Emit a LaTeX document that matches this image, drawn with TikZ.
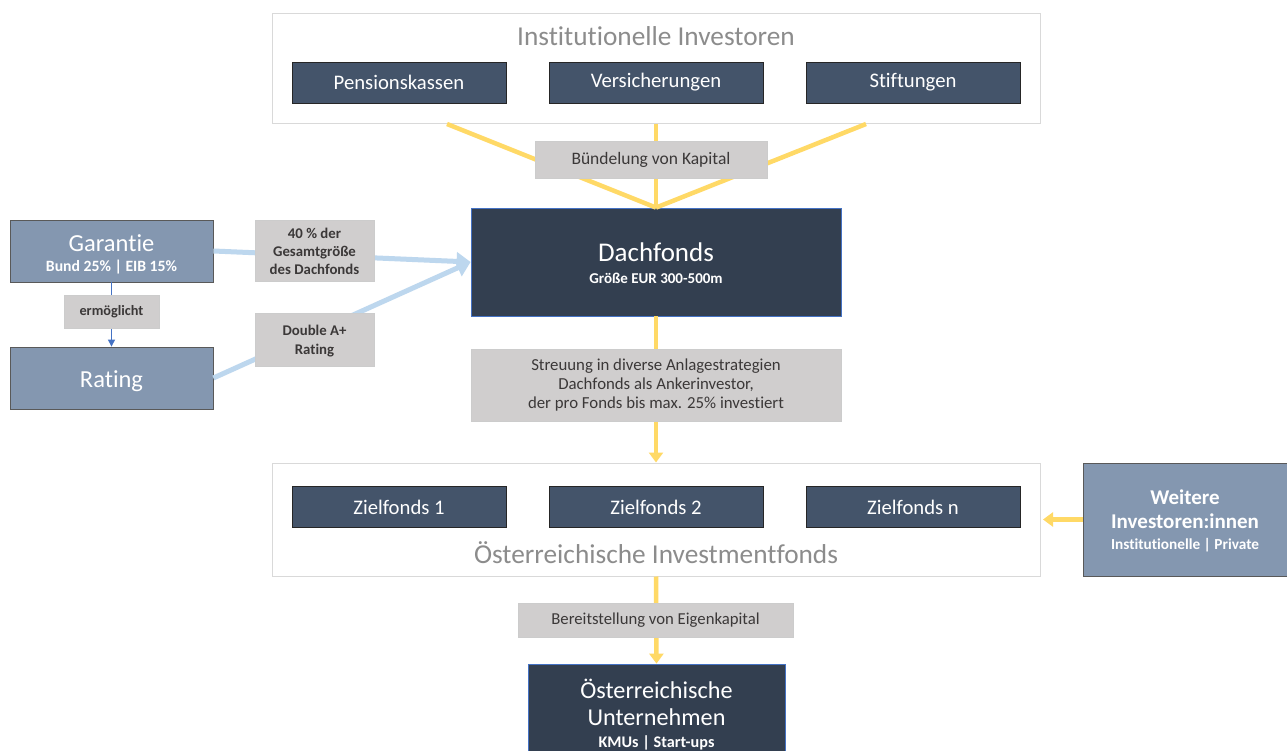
\documentclass[tikz,border=0pt]{standalone}
\usepackage{fontspec}
\setmainfont{Carlito}[Ligatures=NoCommon]
\usetikzlibrary{arrows.meta,calc}
\definecolor{navy}{HTML}{333F50}
\definecolor{slate}{HTML}{44546A}
\definecolor{steel}{HTML}{8497B0}
\definecolor{lgray}{HTML}{D0CECE}
\definecolor{gold}{HTML}{FFD966}
\definecolor{lblue}{HTML}{BDD7EE}
\definecolor{accent}{HTML}{4472C4}
\definecolor{titlegray}{HTML}{8C8C8C}
\definecolor{labeltext}{HTML}{3B3838}
\newcommand{\fsz}[1]{\fontsize{#1}{#1}\selectfont}
\newcommand{\lowr}[2]{\raisebox{-#1}[\height][\depth]{#2}}
\tikzset{
  outerbox/.style={draw=black!15, line width=1pt, fill=white, inner sep=0pt},
  fundbox/.style={draw=black!85, line width=0.8pt, fill=slate, text=white, inner sep=0pt,
    minimum width=214pt, minimum height=41pt, font=\fontsize{20.7}{24}\selectfont},
  darkbox/.style={draw=accent, line width=0.8pt, fill=navy, text=white, inner sep=0pt, align=center},
  steelbox/.style={draw=black!65, line width=0.8pt, fill=steel, text=white, inner sep=0pt, align=center},
  labelbox/.style={draw=black!20, line width=0.8pt, fill=lgray, text=labeltext, inner sep=0pt, align=center},
  titletext/.style={text=titlegray, font=\fontsize{27.3}{30}\selectfont, inner sep=0pt},
  goldline/.style={draw=gold, line width=4.5pt},
  goldarrow/.style={goldline, -{Triangle[width=14pt,length=10pt]}},
  bluearrow/.style={draw=lblue, line width=5pt, -{Triangle[width=18pt,length=14pt]}},
}
\begin{document}
\begin{tikzpicture}[x=1pt,y=-1pt]
\useasboundingbox[fill=white] (0,0) rectangle (1287,751);
\clip (0,0) rectangle (1287,751);

% outer containers
\node[outerbox, minimum width=768pt, minimum height=110pt] (inst) at (656,69) {};
\node[titletext] (insttitle) at (656,36) {Institutionelle Investoren};
\node[fundbox] (pens) at (399,82.5) {Pensionskassen};
\node[fundbox] (vers) at (656,82.5) {Versicherungen};
\node[fundbox] (stif) at (913,82.5) {Stiftungen};

\node[outerbox, minimum width=768pt, minimum height=113pt] (invest) at (656,519.5) {};
\node[fundbox] (z1) at (399,507) {Zielfonds 1};
\node[fundbox] (z2) at (656,507) {Zielfonds 2};
\node[fundbox] (zn) at (913,507) {Zielfonds n};
\node[titletext] (investtitle) at (656,553) {Österreichische Investmentfonds};

% main boxes
\node[darkbox, minimum width=370pt, minimum height=108pt] (dach) at (656,262)
  {\fsz{27}\lowr{1.5pt}{Dachfonds}\\[10pt]\fsz{15}\bfseries \lowr{1.5pt}{Größe EUR 300-500m}};
\node[steelbox, minimum width=203pt, minimum height=62pt] (gar) at (111.5,251)
  {\fsz{24.5}\lowr{3.5pt}{Garantie}\\[8pt]\fsz{15.7}\bfseries \lowr{3.5pt}{Bund 25\% | EIB 15\%}};
\node[steelbox, minimum width=203pt, minimum height=62pt] (rat) at (111.5,378)
  {\fsz{24.5}\lowr{3.5pt}{Rating}};
\node[steelbox, minimum width=204pt, minimum height=113pt] (weit) at (1185,519.5)
  {\fsz{21}\bfseries \lowr{1pt}{Weitere}\\[8pt]\fsz{21}\bfseries \lowr{1pt}{Investoren:innen}\\[9pt]\fsz{15.3}\bfseries \lowr{1pt}{Institutionelle | Private}};
\node[darkbox, minimum width=257pt, minimum height=102pt] (unt) at (656.5,715)
  {\fsz{24.2}Österreichische\\[9pt]\fsz{24.2}Unternehmen\\[9pt]\fsz{16.2}\bfseries KMUs | Start-ups};

% connector coordinates
\coordinate (i1) at (447,124);
\coordinate (i2) at (656,124);
\coordinate (i3) at (866,124);
\coordinate (dtip) at (dach.west);
\coordinate (wtip) at (1043,519.5);

% connectors
\draw[goldline] (i1) -- (dach.north);
\draw[goldline] (i2) -- (dach.north);
\draw[goldline] (i3) -- (dach.north);
\draw[goldarrow] (dach.south) -- (invest.north);
\draw[goldarrow] (invest.south) -- (unt.north);
\draw[goldarrow] (weit.west) -- (wtip);
\draw[bluearrow] (gar.east) -- (dtip);
\draw[bluearrow] (rat.east) -- (dtip);
\draw[draw=accent, line width=1pt, -{Triangle[width=7pt,length=7pt]}] (gar.south) -- (rat.north);

% label boxes
\node[labelbox, minimum width=232pt, minimum height=37pt, font=\fontsize{17.5}{19}\selectfont] (buen) at (651,159.5) {Bündelung von Kapital};
\node[labelbox, minimum width=95pt, minimum height=33pt, font=\fontsize{14.3}{16}\selectfont\bfseries] (erm) at (111.5,311.5) {ermöglicht};
\node[labelbox, minimum width=119pt, minimum height=61pt, font=\fontsize{14.8}{18}\selectfont\bfseries] (vierzig) at (314.5,251) {40 \% der\\Gesamtgröße\\des Dachfonds};
\node[labelbox, minimum width=119pt, minimum height=53pt, font=\fontsize{14.8}{19}\selectfont\bfseries] (dbl) at (314.5,340) {\lowr{1.5pt}{Double A+}\\\lowr{1.5pt}{Rating}};
\node[labelbox, minimum width=370pt, minimum height=72pt, font=\fontsize{16.8}{19}\selectfont] (streu) at (656,385) {Streuung in diverse Anlagestrategien\\Dachfonds als Ankerinvestor,\\der pro Fonds bis max. 25\% investiert};
\node[labelbox, minimum width=275pt, minimum height=34pt, font=\fontsize{16.7}{19}\selectfont] (bereit) at (655.5,620) {Bereitstellung von Eigenkapital};
\end{tikzpicture}
\end{document}
